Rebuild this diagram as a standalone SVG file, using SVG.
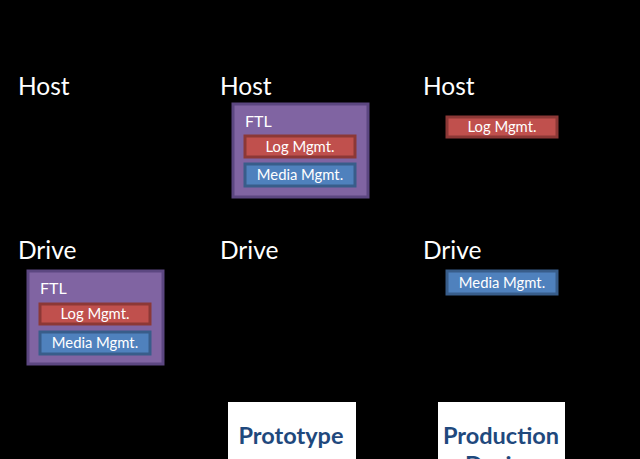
<svg xmlns="http://www.w3.org/2000/svg" width="640" height="459" viewBox="0 0 640 459">
<style>
.lbl{font-family:Lato,"Open Sans","Liberation Sans",sans-serif;font-size:24.5px;fill:#fff}
.ftl{fill:#8064A2;stroke:#5C4781;stroke-width:3}
.ftlt{font-family:Lato,"Open Sans","Liberation Sans",sans-serif;font-size:16px;fill:#fff}
.log{fill:#C0504D;stroke:#8C3836;stroke-width:3}
.med{fill:#4F81BD;stroke:#385D8A;stroke-width:3}
.bt{font-family:Lato,"Open Sans","Liberation Sans",sans-serif;font-size:14.8px;fill:#fff;text-anchor:middle}
.card{fill:#fff}
.ct{font-family:Lato,"Open Sans","Liberation Sans",sans-serif;font-size:23.5px;font-weight:bold;fill:#1F497D;text-anchor:middle}
</style>
<rect width="640" height="459" fill="#000"/>
<g id="labels">
<text class="lbl" x="18" y="95">Host</text>
<text class="lbl" x="220" y="95">Host</text>
<text class="lbl" x="423" y="95">Host</text>
<text class="lbl" x="18" y="259">Drive</text>
<text class="lbl" x="220" y="259">Drive</text>
<text class="lbl" x="423" y="259">Drive</text>
</g>
<g id="ftl-host">
<rect class="ftl" x="233" y="104" width="135" height="93"/>
<text class="ftlt" x="245" y="127">FTL</text>
<rect class="log" x="245" y="136" width="110" height="21"/>
<text class="bt" x="300" y="152">Log Mgmt.</text>
<rect class="med" x="245" y="164" width="110" height="22"/>
<text class="bt" x="300" y="180">Media Mgmt.</text>
</g>
<g id="ftl-drive">
<rect class="ftl" x="28" y="271" width="135" height="93"/>
<text class="ftlt" x="40" y="294">FTL</text>
<rect class="log" x="40" y="304" width="110" height="20"/>
<text class="bt" x="95" y="319">Log Mgmt.</text>
<rect class="med" x="40" y="332" width="110" height="22"/>
<text class="bt" x="95" y="348">Media Mgmt.</text>
</g>
<g id="log-host">
<rect class="log" x="447" y="117" width="110" height="20"/>
<text class="bt" x="502" y="132">Log Mgmt.</text>
</g>
<g id="media-drive">
<rect class="med" x="447" y="271" width="110" height="23"/>
<text class="bt" x="502" y="288">Media Mgmt.</text>
</g>
<g id="prototype">
<rect class="card" x="228" y="402" width="128" height="60"/>
<text class="ct" x="291" y="444">Prototype</text>
</g>
<g id="production">
<rect class="card" x="438" y="402" width="127" height="60"/>
<text class="ct" x="501" y="444">Production</text>
<text class="ct" x="501" y="473">Design</text>
</g>
</svg>
